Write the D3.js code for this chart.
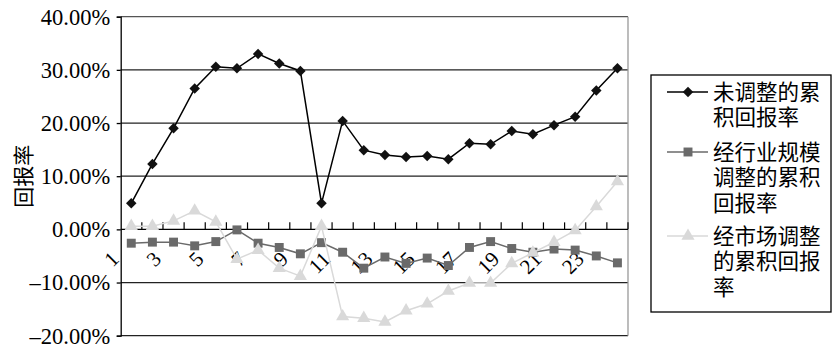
<!DOCTYPE html>
<html><head><meta charset="utf-8">
<script src="https://cdn.jsdelivr.net/npm/d3@7"></script>
<style>
html,body{margin:0;padding:0;background:#fff;}
svg{display:block;}
.serif{font-family:"Liberation Serif","Times New Roman","DejaVu Serif",serif;}
.cjk{font-family:"Noto Sans CJK SC","Noto Sans CJK JP",sans-serif;}
</style></head>
<body>
<svg id="chart" width="833" height="346"></svg>
<script>
// ---- data ----
const categories = d3.range(1, 25);
const unadjusted = [4.9, 12.3, 19.0, 26.5, 30.6, 30.3, 33.0, 31.2, 29.8, 4.9, 20.4, 14.9, 14.0, 13.6, 13.8, 13.2, 16.2, 16.0, 18.5, 17.9, 19.6, 21.2, 26.1, 30.3];
const industryAdjusted = [-2.6, -2.4, -2.4, -3.1, -2.3, -0.1, -2.6, -3.4, -4.6, -2.5, -4.3, -7.3, -5.2, -6.4, -5.4, -6.8, -3.4, -2.3, -3.6, -4.3, -3.7, -3.9, -5.0, -6.3];
const marketAdjusted = [0.6, 0.6, 1.6, 3.5, 1.4, -5.6, -3.9, -7.3, -8.8, 0.6, -16.4, -16.7, -17.4, -15.3, -14.0, -11.6, -10.1, -10.1, -6.4, -4.4, -2.4, -0.2, 4.3, 9.0];
const yTicks = [-20, -10, 0, 10, 20, 30, 40];
const xLabels = [1, 3, 5, 7, 9, 11, 13, 15, 17, 19, 21, 23];
const yTitle = "回报率";
const seriesNames = [["未调整的累", "积回报率"], ["经行业规模", "调整的累积", "回报率"], ["经市场调整", "的累积回报", "率"]];

const svg = d3.select("#chart");
const L = 120.7, R = 628, T = 16.7, B = 335.7;
const x = d3.scaleBand().domain(categories).range([L, R]).padding(0);
const y = d3.scaleLinear().domain([-20, 40]).range([B, T]);
const cx = d => x(d) + x.bandwidth() / 2;

// gridlines
svg.append("g").selectAll("line").data(yTicks.filter(d => d !== 0)).join("line")
  .attr("x1", L).attr("x2", R).attr("y1", d => y(d)).attr("y2", d => y(d))
  .attr("stroke", d => d === 40 ? "#555" : "#222").attr("stroke-width", 1.3);
// right border
svg.append("line").attr("x1", R).attr("x2", R).attr("y1", T).attr("y2", B)
  .attr("stroke", "#999").attr("stroke-width", 1.3);

// y axis
const yAxis = svg.append("g").attr("transform", `translate(${L},0)`)
  .call(d3.axisLeft(y).tickValues(yTicks).tickSize(4).tickPadding(6.5)
    .tickFormat(d => (d < 0 ? "\u2013" : "") + Math.abs(d).toFixed(2) + "%"));
yAxis.attr("font-family", null).attr("font-size", null);
yAxis.select(".domain").attr("stroke", "#000").attr("stroke-width", 1.3);
yAxis.selectAll(".tick line").attr("stroke", "#000").attr("stroke-width", 1.3);
yAxis.selectAll(".tick text").attr("class", "serif").style("font-size", "22.5px")
  .attr("fill", "#000").attr("dy", "0.33em");

// x axis at 0
svg.append("line").attr("x1", L).attr("x2", R).attr("y1", y(0)).attr("y2", y(0))
  .attr("stroke", "#000").attr("stroke-width", 1.3);
svg.append("g").selectAll("line").data(categories).join("line")
  .attr("x1", d => x(d) + x.bandwidth()).attr("x2", d => x(d) + x.bandwidth())
  .attr("y1", y(0)).attr("y2", y(0) - 7)
  .attr("stroke", "#000").attr("stroke-width", 1.2);
svg.append("g").selectAll("text").data(xLabels).join("text")
  .attr("class", "serif")
  .attr("transform", d => `translate(${cx(d) - 11},${y(0) + 31}) rotate(-45)`)
  .attr("text-anchor", "end").style("font-size", "21px")
  .attr("fill", "#000").text(d => d);

// y title
svg.append("text").attr("class", "cjk").attr("transform", `translate(31,${(T + B) / 2}) rotate(-90)`)
  .attr("text-anchor", "middle").style("font-size", "21px")
  .attr("fill", "#000").text(yTitle);

// series
const line = d3.line().x((d, i) => cx(categories[i])).y(d => y(d));
const diamond = d3.symbol().type(d3.symbolDiamond2).size(70);
const square = d3.symbol().type(d3.symbolSquare).size(80);
const triangle = d3.symbol().type(d3.symbolTriangle).size(75);

const series = [
  {values: unadjusted, color: "#000", mcolor: "#111", sym: diamond, w: 1.5},
  {values: industryAdjusted, color: "#6a6a6a", mcolor: "#6a6a6a", sym: square, w: 1.5},
  {values: marketAdjusted, color: "#d9d9d9", mcolor: "#d9d9d9", sym: triangle, w: 1.5}
];
series.forEach(s => {
  svg.append("path").datum(s.values).attr("d", line)
    .attr("fill", "none").attr("stroke", s.color).attr("stroke-width", s.w);
  svg.append("g").selectAll("path").data(s.values).join("path")
    .attr("transform", (d, i) => `translate(${cx(categories[i])},${y(d)})`)
    .attr("d", s.sym).attr("fill", s.mcolor);
});

// legend
svg.append("rect").attr("x", 651).attr("y", 75).attr("width", 180).attr("height", 237)
  .attr("fill", "none").attr("stroke", "#000").attr("stroke-width", 1.3);
const entryY = [92, 152, 236];
const lineStep = 25.5;
series.forEach((s, k) => {
  const yy = entryY[k];
  svg.append("line").attr("x1", 667).attr("x2", 708).attr("y1", yy).attr("y2", yy)
    .attr("stroke", s.color).attr("stroke-width", s.w);
  svg.append("path").attr("transform", `translate(688,${yy})`).attr("d", s.sym).attr("fill", s.mcolor);
  seriesNames[k].forEach((t, j) => {
    svg.append("text").attr("class", "cjk").attr("x", 713).attr("y", yy + j * lineStep).attr("dy", "0.36em")
      .style("font-size", "21.5px").attr("fill", "#000").text(t);
  });
});
</script>
</body></html>
